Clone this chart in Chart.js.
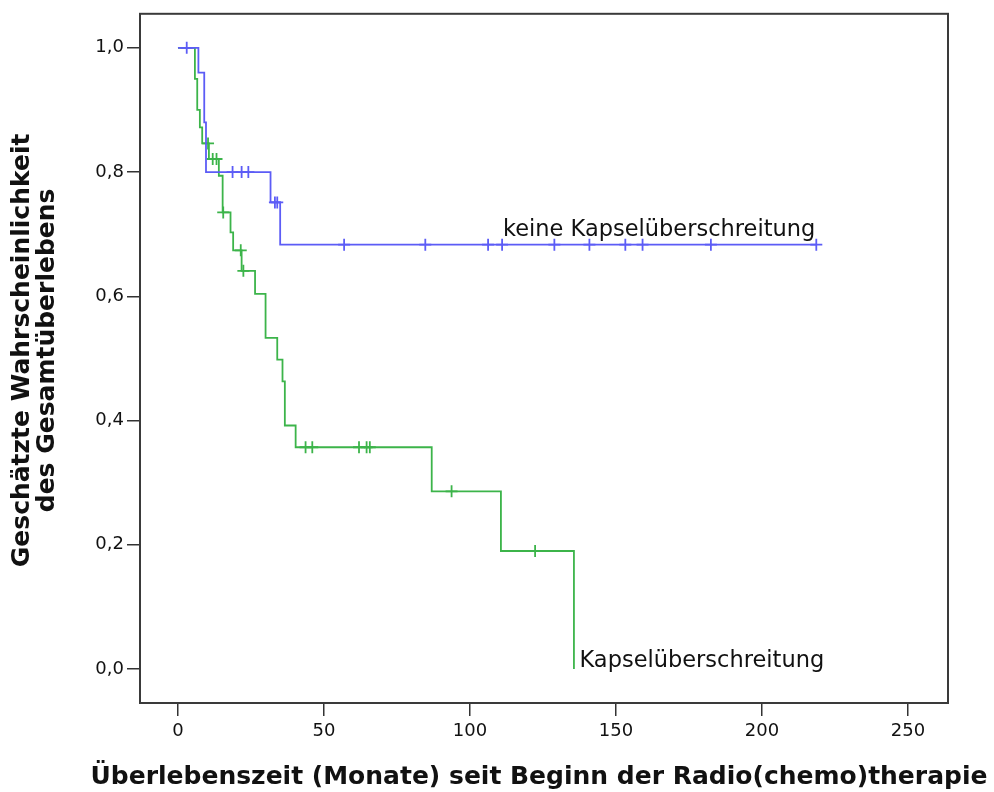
<!DOCTYPE html>
<html>
<head>
<meta charset="utf-8">
<script src="https://cdn.jsdelivr.net/npm/chart.js@4.4.1/dist/chart.umd.min.js"></script>
<style>
  html, body { margin: 0; padding: 0; background: #fff; }
  .container { width: 994px; height: 792px; }
</style>
</head>
<body>
<div class="container"><canvas id="km"></canvas></div>
<script>
// Kaplan-Meier steps: time (months) and estimated survival
const noCapsTimes = [0, 7.0, 9.0, 9.0, 9.6, 9.6, 31.7, 35.0, 218.6];
const noCapsSurv = [1.0, 0.96, 0.92, 0.88, 0.84, 0.80, 0.751, 0.683, 0.683];
const noCapsCensorTimes = [3.0, 18.7, 21.8, 24.1, 33.2, 34.0, 56.9, 84.7, 106.2, 111.0, 128.9, 140.9, 153.2, 159.1, 182.5, 218.6];
const noCapsCensorSurv = [1.0, 0.80, 0.80, 0.80, 0.751, 0.751, 0.683, 0.683, 0.683, 0.683, 0.683, 0.683, 0.683, 0.683, 0.683, 0.683];

const capsTimes = [0, 5.8, 6.6, 7.5, 8.3, 10.6, 14.0, 15.3, 18.0, 18.9, 21.8, 26.4, 30.0, 30.0, 34.0, 35.8, 36.6, 36.6, 40.3, 86.9, 110.6, 135.6];
const capsSurv = [1.0, 0.95, 0.90, 0.872, 0.846, 0.821, 0.794, 0.735, 0.703, 0.674, 0.641, 0.604, 0.569, 0.533, 0.498, 0.463, 0.427, 0.392, 0.357, 0.286, 0.190, 0.0];
const capsCensorTimes = [10.3, 11.9, 13.2, 15.5, 21.5, 22.4, 43.7, 46.0, 62.0, 64.6, 65.7, 93.7, 122.3];
const capsCensorSurv = [0.846, 0.821, 0.821, 0.735, 0.674, 0.641, 0.357, 0.357, 0.357, 0.357, 0.357, 0.286, 0.190];

const groupLabels = ["keine Kapselüberschreitung", "Kapselüberschreitung"];
const xTitle = "Überlebenszeit (Monate) seit Beginn der Radio(chemo)therapie";
const yTitle = ["Geschätzte Wahrscheinlichkeit", "des Gesamtüberlebens"];

const BLUE = "#5c5cf6";
const GREEN = "#3cb44a";
const SANS = "'DejaVu Sans', sans-serif";

const toPoints = (xs, ys) => xs.map((x, i) => ({ x, y: ys[i] }));

// frame around the plot area
const framePlugin = {
  id: "frame",
  afterDraw(chart) {
    const { ctx, chartArea: a } = chart;
    ctx.save();
    ctx.strokeStyle = "#3a3a3a";
    ctx.lineWidth = 2;
    ctx.strokeRect(a.left, a.top, a.right - a.left, a.bottom - a.top);
    ctx.restore();
  },
};

// axis titles drawn by hand so Chart.js does not squeeze them to the axis width
const titlePlugin = {
  id: "axisTitles",
  afterDraw(chart) {
    const { ctx, chartArea: a } = chart;
    ctx.save();
    ctx.fillStyle = "#111";
    ctx.textAlign = "center";
    ctx.textBaseline = "middle";
    ctx.font = "bold 25px " + SANS;
    ctx.fillText(xTitle, (a.left + a.right) / 2 - 5, chart.height - 15);

    ctx.translate(0, (a.top + a.bottom) / 2 - 8);
    ctx.rotate(-Math.PI / 2);
    yTitle.forEach((line, i) => ctx.fillText(line, 0, 22 + i * 25));
    ctx.restore();
  },
};

// group labels next to the curves
const labelPlugin = {
  id: "groupLabels",
  afterDatasetsDraw(chart) {
    const { ctx, scales: { x, y } } = chart;
    ctx.save();
    ctx.fillStyle = "#111";
    ctx.font = "22.5px " + SANS;
    ctx.textAlign = "left";
    ctx.textBaseline = "alphabetic";
    ctx.fillText(groupLabels[0], x.getPixelForValue(111.3), y.getPixelForValue(0.683) - 9);
    ctx.fillText(groupLabels[1], x.getPixelForValue(137.5), y.getPixelForValue(0.0) - 2);
    ctx.restore();
  },
};

new Chart(document.getElementById("km"), {
  type: "line",
  data: {
    datasets: [
      {
        label: groupLabels[0],
        data: toPoints(noCapsTimes, noCapsSurv),
        borderColor: BLUE,
        borderWidth: 1.8,
        stepped: true,
        pointRadius: 0,
      },
      {
        label: groupLabels[0] + " zensiert",
        data: toPoints(noCapsCensorTimes, noCapsCensorSurv),
        showLine: false,
        pointStyle: "cross",
        pointRadius: 6,
        borderColor: BLUE,
        borderWidth: 1.8,
      },
      {
        label: groupLabels[1],
        data: toPoints(capsTimes, capsSurv),
        borderColor: GREEN,
        borderWidth: 1.8,
        stepped: true,
        pointRadius: 0,
      },
      {
        label: groupLabels[1] + " zensiert",
        data: toPoints(capsCensorTimes, capsCensorSurv),
        showLine: false,
        pointStyle: "cross",
        pointRadius: 6,
        borderColor: GREEN,
        borderWidth: 1.8,
      },
    ],
  },
  options: {
    responsive: true,
    maintainAspectRatio: false,
    animation: false,
    layout: { padding: { left: 0, right: 46, top: 13, bottom: 0 } },
    plugins: {
      legend: { display: false },
      tooltip: { enabled: false },
    },
    scales: {
      x: {
        type: "linear",
        min: -13,
        max: 263.7,
        afterFit: (s) => { s.height = 89; },
        grid: { drawOnChartArea: false, tickLength: 13, color: "#333", lineWidth: 1.5 },
        border: { display: false },
        ticks: {
          stepSize: 50,
          includeBounds: false,
          padding: 5,
          color: "#111",
          font: { family: SANS, size: 18 },
          callback: (v) => String(v),
        },
        title: { display: false, text: xTitle },
      },
      y: {
        type: "linear",
        min: -0.0547,
        max: 1.0547,
        afterFit: (s) => { s.width = 140; },
        grid: { drawOnChartArea: false, tickLength: 13, color: "#333", lineWidth: 1.5 },
        border: { display: false },
        ticks: {
          stepSize: 0.2,
          includeBounds: false,
          padding: 3,
          color: "#111",
          font: { family: SANS, size: 18 },
          callback: (v) => v.toFixed(1).replace(".", ","),
        },
        title: { display: false, text: yTitle },
      },
    },
  },
  plugins: [framePlugin, titlePlugin, labelPlugin],
});
</script>
</body>
</html>
